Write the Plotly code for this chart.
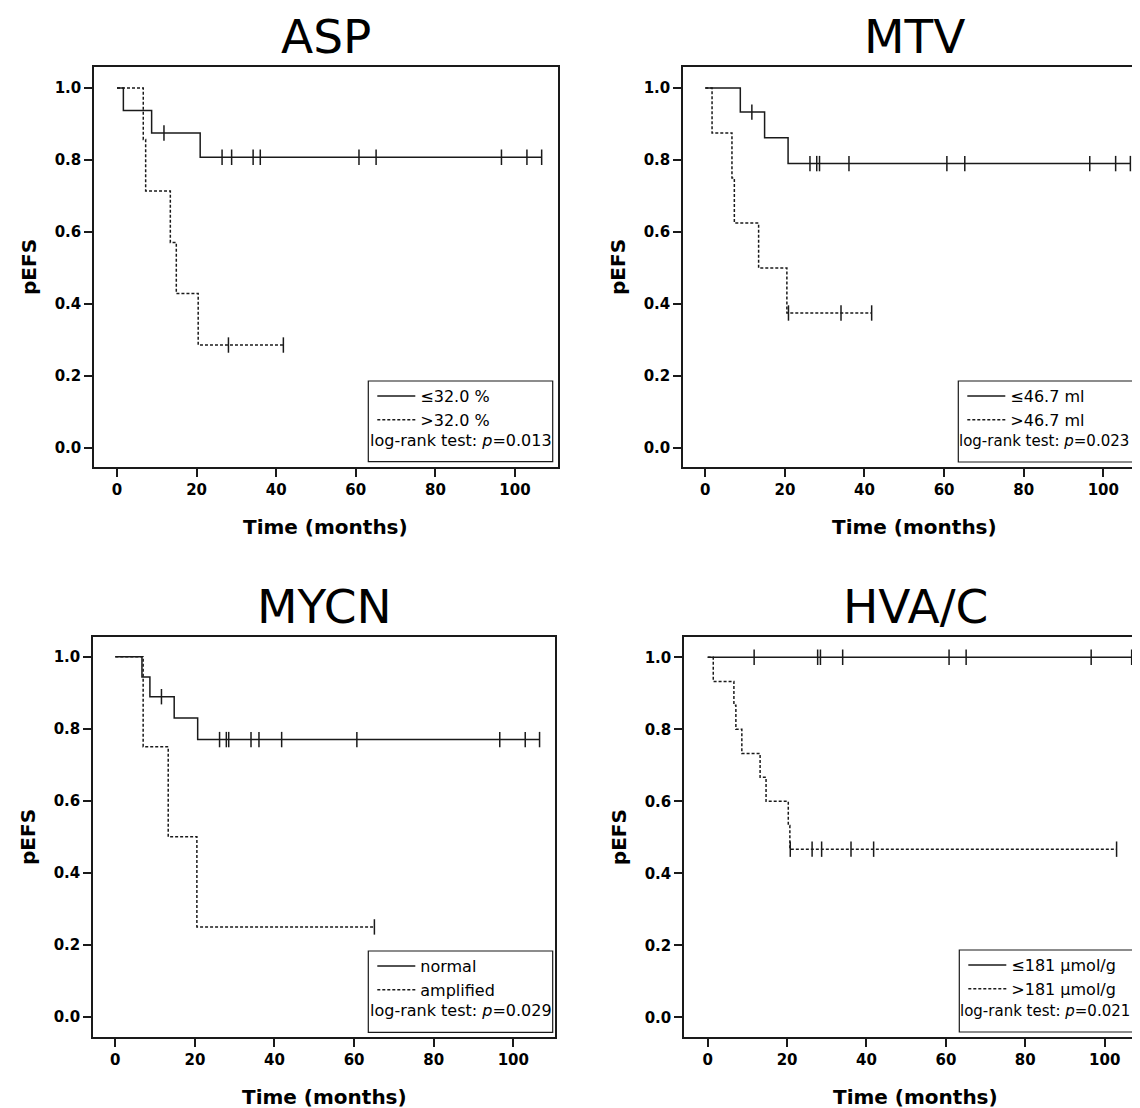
import plotly.graph_objects as go

# ---------------- data ----------------
panel_titles = ["ASP", "MTV", "MYCN", "HVA/C"]

# ASP
asp_lo_name = "≤32.0 %"
asp_lo_event_t = [1.6, 8.7, 20.9]
asp_lo_surv = [0.9375, 0.875, 0.8077]
asp_lo_censor_t = [11.8, 26.4, 28.8, 34.2, 36.0, 60.8, 65.1, 96.6, 103.0, 106.7]
asp_hi_name = ">32.0 %"
asp_hi_event_t = [6.6, 7.2, 13.4, 14.9, 20.4]
asp_hi_surv = [0.857, 0.714, 0.571, 0.429, 0.286]
asp_hi_censor_t = [28.0, 41.8]
asp_p = "0.013"

# MTV
mtv_lo_name = "≤46.7 ml"
mtv_lo_event_t = [8.8, 14.9, 20.8]
mtv_lo_surv = [0.933, 0.862, 0.790]
mtv_lo_censor_t = [11.7, 26.3, 28.0, 28.7, 36.1, 60.7, 65.2, 96.6, 103.1, 106.8]
mtv_hi_name = ">46.7 ml"
mtv_hi_event_t = [1.7, 6.7, 7.3, 13.4, 20.5]
mtv_hi_surv = [0.875, 0.75, 0.625, 0.5, 0.375]
mtv_hi_censor_t = [20.9, 34.1, 41.8]
mtv_p = "0.023"

# MYCN
mycn_lo_name = "normal"
mycn_lo_event_t = [6.7, 8.7, 14.8, 20.7]
mycn_lo_surv = [0.944, 0.889, 0.830, 0.770]
mycn_lo_censor_t = [11.6, 26.2, 27.9, 28.5, 34.1, 36.1, 41.8, 60.7, 96.6, 103.0, 106.6]
mycn_hi_name = "amplified"
mycn_hi_event_t = [7.0, 13.3, 20.5]
mycn_hi_surv = [0.75, 0.5, 0.25]
mycn_hi_censor_t = [65.1]
mycn_p = "0.029"

# HVA/C
hva_lo_name = "≤181 µmol/g"
hva_lo_event_t = []
hva_lo_surv = []
hva_lo_censor_t = [11.7, 27.7, 28.4, 34.0, 60.8, 65.1, 96.6, 106.8]
hva_hi_name = ">181 µmol/g"
hva_hi_event_t = [1.4, 6.6, 7.1, 8.6, 13.2, 14.7, 20.3, 20.7]
hva_hi_surv = [0.933, 0.867, 0.80, 0.733, 0.667, 0.60, 0.533, 0.467]
hva_hi_censor_t = [20.8, 26.3, 28.7, 36.1, 41.8, 103.0]
hva_p = "0.021"

x_ticks = [0, 20, 40, 60, 80, 100]
y_ticks = [0.0, 0.2, 0.4, 0.6, 0.8, 1.0]

# ---------------- layout geometry (reference pixels) ----------------
OFF = 8                      # page body margin
W, H = 1140 - OFF, 1108 - OFF
FONT = "DejaVu Sans, Liberation Sans, Arial, sans-serif"

panels = [
    dict(title=panel_titles[0], box=(94, 557.5, 67, 467), xr=(-5.78, 110.68), yr=(-0.0528, 1.0583),
         lo=(asp_lo_name, asp_lo_event_t, asp_lo_surv, asp_lo_censor_t),
         hi=(asp_hi_name, asp_hi_event_t, asp_hi_surv, asp_hi_censor_t), p=asp_p, right=True),
    dict(title=panel_titles[1], box=(683, 1140, 67, 467), xr=(-5.60, 109.22), yr=(-0.0528, 1.0583),
         lo=(mtv_lo_name, mtv_lo_event_t, mtv_lo_surv, mtv_lo_censor_t),
         hi=(mtv_hi_name, mtv_hi_event_t, mtv_hi_surv, mtv_hi_censor_t), p=mtv_p, right=False),
    dict(title=panel_titles[2], box=(93, 555, 637, 1037), xr=(-5.60, 110.48), yr=(-0.0555, 1.0547),
         lo=(mycn_lo_name, mycn_lo_event_t, mycn_lo_surv, mycn_lo_censor_t),
         hi=(mycn_hi_name, mycn_hi_event_t, mycn_hi_surv, mycn_hi_censor_t), p=mycn_p, right=True),
    dict(title=panel_titles[3], box=(684, 1140, 637, 1037.3), xr=(-5.97, 108.9), yr=(-0.0556, 1.0564),
         lo=(hva_lo_name, hva_lo_event_t, hva_lo_surv, hva_lo_censor_t),
         hi=(hva_hi_name, hva_hi_event_t, hva_hi_surv, hva_hi_censor_t), p=hva_p, right=False),
]
# legend box: left, top, bottom (reference px)
legend_boxes = [(368.3, 381, 461.7), (958.3, 381, 462), (368.3, 951, 1032.3), (959.3, 950, 1032)]


def px_x(v):
    return (v - OFF) / W


def px_y(v):
    return 1 - (v - OFF) / H


def km_curve(event_t, surv, censor_t):
    end_t = max(censor_t + event_t)
    xs = [0.0] + list(event_t) + [end_t]
    ys = [1.0] + list(surv) + [surv[-1] if surv else 1.0]
    cy = []
    for c in censor_t:
        level = 1.0
        for t, s in zip(event_t, surv):
            if t <= c:
                level = s
        cy.append(level)
    return xs, ys, cy


fig = go.Figure()
annotations = []
shapes = []
LINE_COL = "#1a1a1a"

for i, pn in enumerate(panels):
    n = i + 1
    xa = "x" if n == 1 else f"x{n}"
    ya = "y" if n == 1 else f"y{n}"
    lg = "legend" if n == 1 else f"legend{n}"
    for key, dash in (("lo", "solid"), ("hi", "3px,2px")):
        name, et, sv, ct = pn[key]
        xs, ys, cy = km_curve(et, sv, ct)
        fig.add_trace(go.Scatter(x=xs, y=ys, mode="lines", name=name, line_shape="hv",
                                 line=dict(color=LINE_COL, width=1.5, dash=dash),
                                 xaxis=xa, yaxis=ya, legend=lg, showlegend=True))
        fig.add_trace(go.Scatter(x=ct, y=cy, mode="markers", showlegend=False,
                                 marker=dict(symbol="line-ns", size=11,
                                             line=dict(color=LINE_COL, width=1.5)),
                                 xaxis=xa, yaxis=ya, hoverinfo="skip"))
    x0, x1, y0, y1 = pn["box"]
    cx = x0 + 463.5 / 2
    axis_common = dict(showline=True, linecolor=LINE_COL, linewidth=1.5, ticks="outside",
                       ticklen=8, tickwidth=1.5, tickcolor=LINE_COL, showgrid=False, zeroline=False,
                       tickfont=dict(family=FONT, size=15, color="black", weight="bold"))
    fig.update_layout(**{
        ("xaxis" if n == 1 else f"xaxis{n}"): dict(
            domain=[px_x(x0), min(px_x(x1), 1.0)], range=list(pn["xr"]), anchor=ya,
            tickvals=x_ticks, mirror=True, **axis_common),
        ("yaxis" if n == 1 else f"yaxis{n}"): dict(
            domain=[px_y(y1), px_y(y0)], range=list(pn["yr"]), anchor=xa,
            tickvals=y_ticks, tickformat=".1f", mirror=pn["right"], **axis_common),
    })
    # panel title (top of its text box at the top of the drawing area / band)
    annotations.append(dict(text=pn["title"], x=px_x(cx), y=px_y(y0 - 59),
                            xref="paper", yref="paper", xanchor="center", yanchor="top",
                            borderpad=0, showarrow=False,
                            font=dict(family=FONT, size=47, color="black")))
    # axis titles
    annotations.append(dict(text="<b>Time (months)</b>", x=px_x(cx), y=px_y(y1 + 60),
                            xref="paper", yref="paper", xanchor="center", yanchor="middle",
                            showarrow=False, font=dict(family=FONT, size=20, color="black")))
    annotations.append(dict(text="<b>pEFS</b>", x=px_x(x0 - 65), y=px_y((y0 + y1) / 2),
                            xref="paper", yref="paper", xanchor="center", yanchor="middle",
                            textangle=-90, showarrow=False,
                            font=dict(family=FONT, size=20, color="black")))
    # legend
    lb_l, lb_t, lb_b = legend_boxes[i]
    fig.update_layout(**{lg: dict(x=px_x(lb_l + 4), y=px_y(lb_t - 2), xanchor="left", yanchor="top",
                                  bgcolor="rgba(0,0,0,0)", borderwidth=0, itemwidth=38,
                                  font=dict(family=FONT, size=16, color="black"),
                                  tracegroupgap=0, itemclick=False)})
    lb_r = lb_l + 184.4
    shapes.append(dict(type="rect", xref="paper", yref="paper",
                       x0=px_x(lb_l), x1=px_x(lb_r), y0=px_y(lb_b), y1=px_y(lb_t),
                       line=dict(color=LINE_COL, width=1.2), fillcolor="rgba(0,0,0,0)", layer="above"))
    p_size = 16 if pn["right"] else 15
    annotations.append(dict(text=f"log-rank test: <i>p</i>={pn['p']}",
                            x=px_x(lb_l - (0 if pn["right"] else 1)), y=px_y(lb_b - 21.5),
                            xref="paper", yref="paper", xanchor="left", yanchor="middle",
                            showarrow=False, font=dict(family=FONT, size=p_size, color="black")))

fig.update_layout(width=W, height=H, margin=dict(l=0, r=0, t=0, b=0),
                  paper_bgcolor="white", plot_bgcolor="white",
                  annotations=annotations, shapes=shapes,
                  font=dict(family=FONT, color="black"))

fig.write_html("out.html")
